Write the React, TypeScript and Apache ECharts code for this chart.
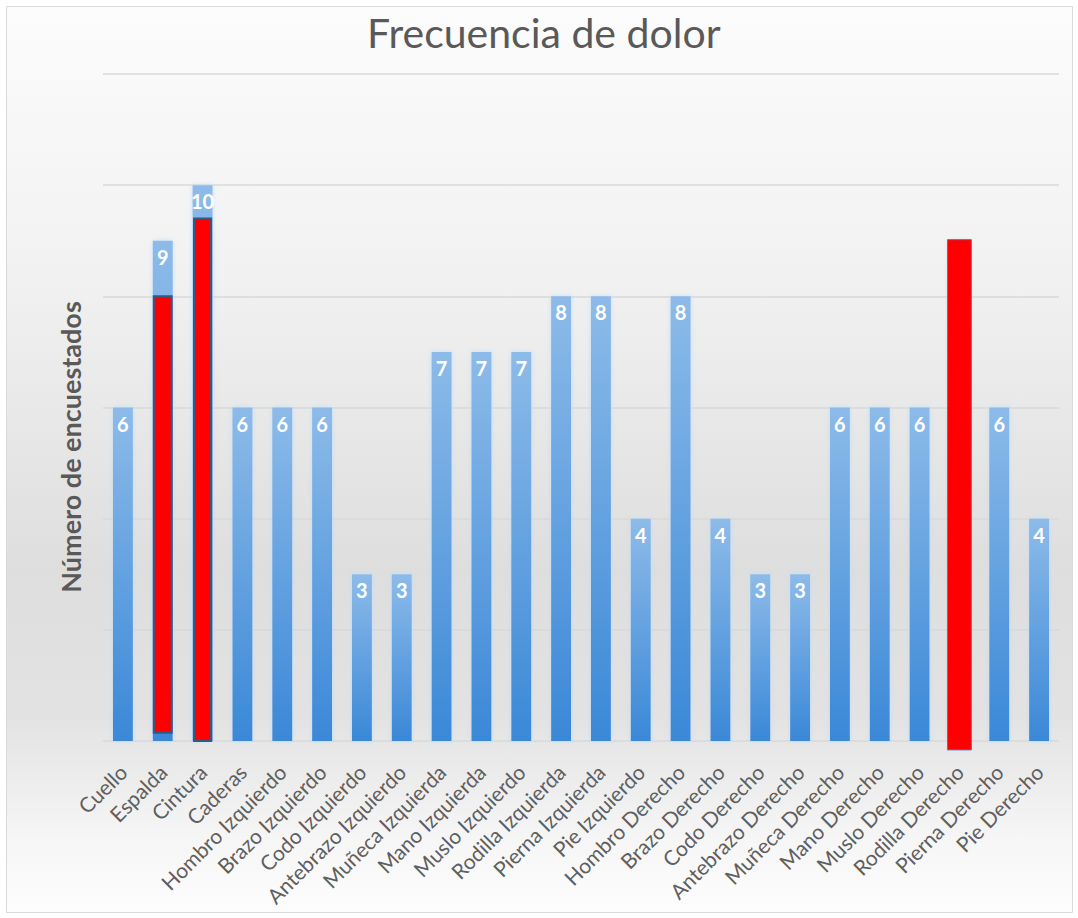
import React, { useEffect, useRef } from "react";
import * as echarts from "echarts";

// Body regions surveyed and number of respondents reporting pain in each
const categories = [
  "Cuello", "Espalda", "Cintura", "Caderas", "Hombro Izquierdo", "Brazo Izquierdo",
  "Codo Izquierdo", "Antebrazo Izquierdo", "Muñeca Izquierda", "Mano Izquierda",
  "Muslo Izquierdo", "Rodilla Izquierda", "Pierna Izquierda", "Pie Izquierdo",
  "Hombro Derecho", "Brazo Derecho", "Codo Derecho", "Antebrazo Derecho",
  "Muñeca Derecho", "Mano Derecho", "Muslo Derecho", "Rodilla Derecho",
  "Pierna Derecho", "Pie Derecho",
];
const respondents = [6, 9, 10, 6, 6, 6, 3, 3, 7, 7, 7, 8, 8, 4, 8, 4, 3, 3, 6, 6, 6, 9, 6, 4];

// Red highlight bands drawn over some columns (value range on the y scale)
const highlightCats = ["Espalda", "Cintura", "Rodilla Derecho"];
const highlightFrom = [0.15, 0, -0.16];
const highlightTo = [8, 9.4, 9.02];

const yTicks = { min: 0, max: 12, interval: 2 };

// Look of each highlight (fraction of band width, outline)
const highlightLook = [
  { widthFrac: 0.45, stroke: "#2f5b86", lineWidth: 2 },
  { widthFrac: 0.43, stroke: "#2f5b86", lineWidth: 2 },
  { widthFrac: 0.6, stroke: "#4b79c2", lineWidth: 1 },
];

const FONT = "Lato, 'Open Sans', sans-serif";

export default function App() {
  const ref = useRef<HTMLDivElement>(null);

  useEffect(() => {
    if (!ref.current) return;
    const chart = echarts.init(ref.current, undefined, { renderer: "svg" });

    const highlightData = highlightCats.map((c, i) => [
      categories.indexOf(c),
      highlightFrom[i],
      highlightTo[i],
      i,
    ]);

    chart.setOption({
      animation: false,
      backgroundColor: "#ffffff",
      textStyle: { fontFamily: FONT },
      graphic: [
        {
          type: "rect",
          z: -10,
          silent: true,
          shape: { x: 6.5, y: 6.5, width: 1066, height: 906 },
          style: {
            fill: new echarts.graphic.LinearGradient(0, 0, 0, 1, [
              { offset: 0, color: "#fcfcfc" },
              { offset: 0.3, color: "#f1f1f1" },
              { offset: 0.62, color: "#dedede" },
              { offset: 0.78, color: "#e2e2e2" },
              { offset: 0.92, color: "#f6f6f6" },
              { offset: 1, color: "#fdfdfd" },
            ]),
            stroke: "#d9d9d9",
            lineWidth: 1,
          },
        },
        {
          type: "text",
          left: 367,
          top: 12,
          silent: true,
          style: {
            text: "Frecuencia de dolor",
            font: `41px ${FONT}`,
            fill: "#595959",
          },
        },
        {
          type: "text",
          x: 70,
          y: 447,
          rotation: Math.PI / 2,
          silent: true,
          style: {
            text: "Número de encuestados",
            font: `bold 27px ${FONT}`,
            fill: "#595959",
            align: "center",
            verticalAlign: "middle",
          },
        },
      ],
      grid: { left: 103, right: 19, top: 74, bottom: 177, containLabel: false },
      xAxis: {
        type: "category",
        data: categories,
        axisLine: { show: false },
        axisTick: { show: false },
        axisLabel: {
          interval: 0,
          rotate: 45,
          margin: 27,
          color: "#5f5f5f",
          fontSize: 21,
          fontFamily: FONT,
        },
      },
      yAxis: {
        type: "value",
        min: yTicks.min,
        max: yTicks.max,
        interval: yTicks.interval,
        axisLabel: { show: false },
        axisLine: { show: false },
        axisTick: { show: false },
        splitLine: { lineStyle: { color: "#d9d9d9", width: 1.5 } },
      },
      series: [
        {
          type: "bar",
          data: respondents,
          barCategoryGap: "50%",
          z: 2,
          itemStyle: {
            color: new echarts.graphic.LinearGradient(0, 0, 0, 1, [
              { offset: 0, color: "#8dbbe9" },
              { offset: 1, color: "#3a88d7" },
            ]),
            shadowColor: "rgba(190,222,250,0.9)",
            shadowBlur: 5,
          },
          label: {
            show: true,
            position: "insideTop",
            distance: 6,
            color: "#ffffff",
            fontWeight: "bold",
            fontSize: 20,
            fontFamily: FONT,
          },
        },
        {
          type: "custom",
          z: 10,
          data: highlightData,
          encode: { x: 0, y: [1, 2] },
          renderItem: (params: any, api: any) => {
            const idx = api.value(0);
            const look = highlightLook[api.value(3)];
            const lo = api.coord([idx, api.value(1)]);
            const hi = api.coord([idx, api.value(2)]);
            const w = api.size([1, 0])[0] * look.widthFrac;
            return {
              type: "rect",
              shape: { x: lo[0] - w / 2, y: hi[1], width: w, height: lo[1] - hi[1] },
              style: { fill: "#ff0000", stroke: look.stroke, lineWidth: look.lineWidth },
            };
          },
        },
      ],
    });

    return () => chart.dispose();
  }, []);

  return (
    <div
      ref={ref}
      style={{ position: "absolute", left: 0, top: 0, width: 1078, height: 918 }}
    />
  );
}
